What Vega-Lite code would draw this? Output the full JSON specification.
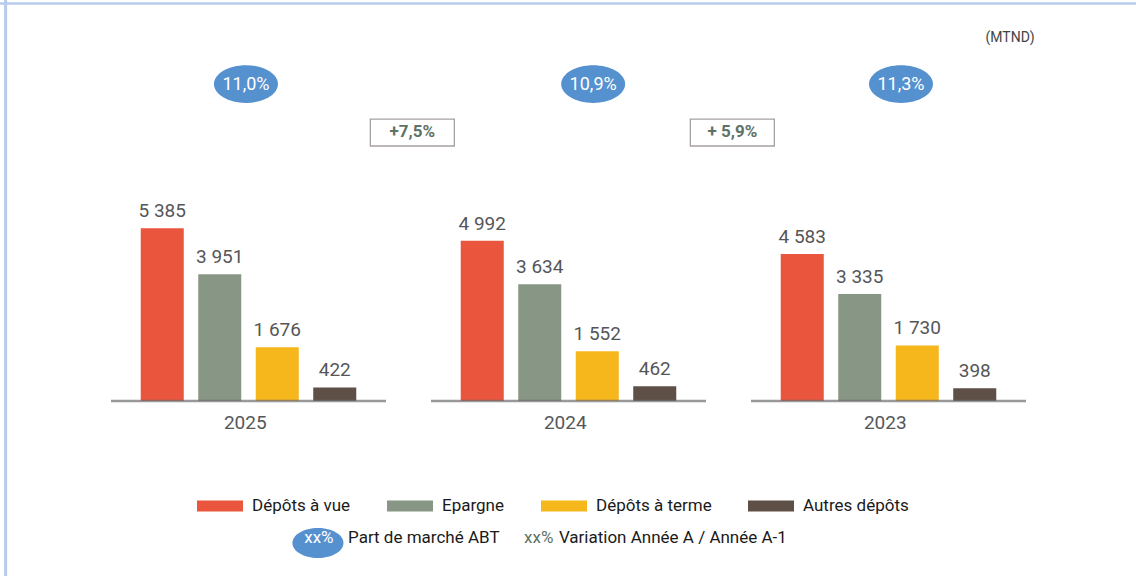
{
  "$schema": "https://vega.github.io/schema/vega-lite/v6.json",
  "width": 1136,
  "height": 576,
  "autosize": {"type": "none"},
  "padding": 0,
  "background": "white",
  "config": {
    "view": {"stroke": null},
    "font": "Roboto",
    "axis": {"disable": true},
    "locale": {"number": {"decimal": ",", "thousands": " ", "grouping": [3], "currency": ["", ""]}}
  },
  "datasets": {
    "deposits": [
      {"year": "2025", "cat": "Dépôts à vue", "value": 5385},
      {"year": "2025", "cat": "Epargne", "value": 3951},
      {"year": "2025", "cat": "Dépôts à terme", "value": 1676},
      {"year": "2025", "cat": "Autres dépôts", "value": 422},
      {"year": "2024", "cat": "Dépôts à vue", "value": 4992},
      {"year": "2024", "cat": "Epargne", "value": 3634},
      {"year": "2024", "cat": "Dépôts à terme", "value": 1552},
      {"year": "2024", "cat": "Autres dépôts", "value": 462},
      {"year": "2023", "cat": "Dépôts à vue", "value": 4583},
      {"year": "2023", "cat": "Epargne", "value": 3335},
      {"year": "2023", "cat": "Dépôts à terme", "value": 1730},
      {"year": "2023", "cat": "Autres dépôts", "value": 398}
    ],
    "share": [
      {"year": "2025", "share": "11,0%"},
      {"year": "2024", "share": "10,9%"},
      {"year": "2023", "share": "11,3%"}
    ],
    "variation": [
      {"from": "2025", "label": "+7,5%"},
      {"from": "2024", "label": "+ 5,9%"}
    ],
    "years": [{"year": "2025"}, {"year": "2024"}, {"year": "2023"}]
  },
  "layer": [
    {
      "data": {"values": [{}]},
      "mark": {"type": "rule", "color": "#b8cbed", "strokeWidth": 3},
      "encoding": {"x": {"datum": "2025", "type": "nominal", "bandPosition": -0.259, "axis": null}}
    },
    {
      "data": {"values": [{}]},
      "mark": {"type": "rule", "color": "#b8cbed", "strokeWidth": 2.5},
      "encoding": {"y": {"datum": 12383, "type": "quantitative", "axis": null}}
    },
    {
      "data": {"name": "deposits"},
      "mark": {"type": "bar"},
      "encoding": {
        "x": {
          "field": "year", "type": "nominal", "axis": null,
          "scale": {"domain": ["2025", "2024", "2023"], "range": [88.5, 1048.5], "paddingInner": 0, "paddingOuter": 0}
        },
        "xOffset": {
          "field": "cat", "type": "nominal",
          "scale": {"domain": ["Dépôts à vue", "Epargne", "Dépôts à terme", "Autres dépôts"], "paddingInner": 0.252, "paddingOuter": 0.9085}
        },
        "y": {
          "field": "value", "type": "quantitative", "axis": null,
          "scale": {"domain": [-5452, 12492], "nice": false, "zero": false}
        },
        "color": {
          "field": "cat", "type": "nominal",
          "scale": {
            "domain": ["Dépôts à vue", "Epargne", "Dépôts à terme", "Autres dépôts"],
            "range": ["#ea553d", "#889685", "#f6b71c", "#5e4f47"]
          },
          "legend": {
            "title": null, "orient": "none", "legendX": 197, "legendY": 483,
            "direction": "horizontal",
            "symbolType": "M-1,-0.24H1V0.24H-1Z", "symbolSize": 2116, "symbolStrokeWidth": 0, "symbolOpacity": 1,
            "labelFontSize": 17, "labelFont": "Roboto", "labelColor": "#1a1a1a", "labelOffset": 9,
            "columnPadding": 36, "padding": 0
          }
        }
      }
    },
    {
      "data": {"name": "deposits"},
      "mark": {"type": "text", "baseline": "alphabetic", "dy": -11, "fontSize": 19, "color": "#555659", "font": "Roboto"},
      "encoding": {
        "x": {"field": "year", "type": "nominal", "axis": null},
        "xOffset": {"field": "cat", "type": "nominal"},
        "y": {"field": "value", "type": "quantitative", "axis": null},
        "text": {"field": "value", "type": "quantitative", "format": ",d"}
      }
    },
    {
      "data": {"name": "years"},
      "mark": {"type": "tick", "color": "#6d6e71", "thickness": 2.5, "size": 275},
      "encoding": {
        "x": {"field": "year", "type": "nominal", "bandPosition": 0.49, "axis": null},
        "y": {"datum": 0, "type": "quantitative", "axis": null}
      }
    },
    {
      "data": {"name": "years"},
      "mark": {"type": "text", "baseline": "alphabetic", "fontSize": 19, "color": "#555659", "font": "Roboto"},
      "encoding": {
        "x": {"field": "year", "type": "nominal", "bandPosition": 0.49, "axis": null},
        "y": {"datum": -872, "type": "quantitative", "axis": null},
        "text": {"field": "year"}
      }
    },
    {
      "data": {"name": "share"},
      "transform": [{"filter": "datum.year === '2025'"}],
      "encoding": {
        "x": {"field": "year", "type": "nominal", "bandPosition": 0.492, "axis": null},
        "y": {"datum": 9875, "type": "quantitative", "axis": null}
      },
      "layer": [
        {"mark": {"type": "point", "shape": "M-1,0A1,0.59,0,1,1,1,0A1,0.59,0,1,1,-1,0Z", "size": 4096, "filled": true, "opacity": 1, "color": "#5691cf", "strokeWidth": 0}},
        {"mark": {"type": "text", "baseline": "middle", "dy": 1, "fontSize": 18, "color": "white", "font": "Roboto"}, "encoding": {"text": {"field": "share"}}}
      ]
    },
    {
      "data": {"name": "share"},
      "transform": [{"filter": "datum.year === '2024'"}],
      "encoding": {
        "x": {"field": "year", "type": "nominal", "bandPosition": 0.577, "axis": null},
        "y": {"datum": 9875, "type": "quantitative", "axis": null}
      },
      "layer": [
        {"mark": {"type": "point", "shape": "M-1,0A1,0.59,0,1,1,1,0A1,0.59,0,1,1,-1,0Z", "size": 4096, "filled": true, "opacity": 1, "color": "#5691cf", "strokeWidth": 0}},
        {"mark": {"type": "text", "baseline": "middle", "dy": 1, "fontSize": 18, "color": "white", "font": "Roboto"}, "encoding": {"text": {"field": "share"}}}
      ]
    },
    {
      "data": {"name": "share"},
      "transform": [{"filter": "datum.year === '2023'"}],
      "encoding": {
        "x": {"field": "year", "type": "nominal", "bandPosition": 0.539, "axis": null},
        "y": {"datum": 9875, "type": "quantitative", "axis": null}
      },
      "layer": [
        {"mark": {"type": "point", "shape": "M-1,0A1,0.59,0,1,1,1,0A1,0.59,0,1,1,-1,0Z", "size": 4096, "filled": true, "opacity": 1, "color": "#5691cf", "strokeWidth": 0}},
        {"mark": {"type": "text", "baseline": "middle", "dy": 1, "fontSize": 18, "color": "white", "font": "Roboto"}, "encoding": {"text": {"field": "share"}}}
      ]
    },
    {
      "data": {"name": "variation"},
      "encoding": {
        "x": {"field": "from", "type": "nominal", "bandPosition": 1.012, "axis": null},
        "y": {"datum": 8364, "type": "quantitative", "axis": null}
      },
      "layer": [
        {"mark": {"type": "point", "shape": "M-1,-0.321H1V0.321H-1Z", "size": 7056, "filled": false, "opacity": 1, "color": "#a7a1a1", "strokeWidth": 1.3}},
        {"mark": {"type": "text", "baseline": "middle", "dy": -1, "fontSize": 17, "fontWeight": "bold", "color": "#5e7266", "font": "Roboto"}, "encoding": {"text": {"field": "label"}}}
      ]
    },
    {
      "data": {"values": [{"t": "(MTND)"}]},
      "mark": {"type": "text", "baseline": "middle", "fontSize": 14, "color": "#444444", "font": "Roboto"},
      "encoding": {
        "x": {"datum": "2023", "type": "nominal", "bandPosition": 0.88, "axis": null},
        "y": {"datum": 11308, "type": "quantitative", "axis": null},
        "text": {"field": "t"}
      }
    },
    {
      "data": {"values": [{"t": "xx%"}]},
      "layer": [
        {
          "mark": {"type": "point", "shape": "M-1,0A1,0.588,0,1,1,1,0A1,0.588,0,1,1,-1,0Z", "size": 2601, "filled": true, "opacity": 1, "color": "#5691cf", "strokeWidth": 0},
          "encoding": {
            "x": {"datum": "2025", "type": "nominal", "bandPosition": 0.717, "axis": null},
            "y": {"datum": -4424, "type": "quantitative", "axis": null}
          }
        },
        {
          "mark": {"type": "text", "baseline": "middle", "fontSize": 17, "color": "white", "font": "Roboto"},
          "encoding": {
            "x": {"datum": "2025", "type": "nominal", "bandPosition": 0.72, "axis": null},
            "y": {"datum": -4268, "type": "quantitative", "axis": null},
            "text": {"field": "t"}
          }
        },
        {
          "mark": {"type": "text", "align": "left", "baseline": "alphabetic", "fontSize": 17, "color": "#1a1a1a", "font": "Roboto", "text": "Part de marché ABT"},
          "encoding": {
            "x": {"datum": "2025", "type": "nominal", "bandPosition": 0.811, "axis": null},
            "y": {"datum": -4424, "type": "quantitative", "axis": null}
          }
        },
        {
          "mark": {"type": "text", "align": "left", "baseline": "alphabetic", "fontSize": 17, "color": "#5e7266", "font": "Roboto"},
          "encoding": {
            "x": {"datum": "2024", "type": "nominal", "bandPosition": 0.361, "axis": null},
            "y": {"datum": -4424, "type": "quantitative", "axis": null},
            "text": {"field": "t"}
          }
        },
        {
          "mark": {"type": "text", "align": "left", "baseline": "alphabetic", "fontSize": 17, "color": "#1a1a1a", "font": "Roboto", "text": "Variation Année A / Année A-1"},
          "encoding": {
            "x": {"datum": "2024", "type": "nominal", "bandPosition": 0.47, "axis": null},
            "y": {"datum": -4424, "type": "quantitative", "axis": null}
          }
        }
      ]
    }
  ]
}
